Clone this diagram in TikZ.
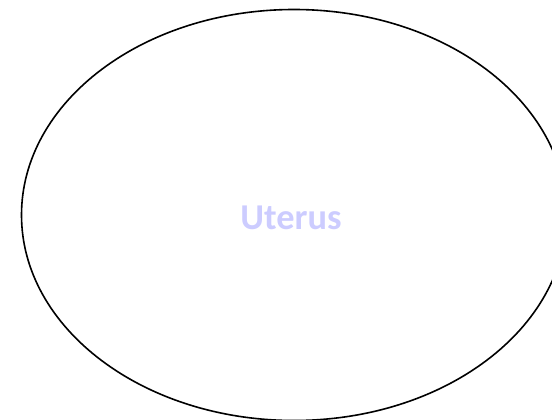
\documentclass[tikz,border=0pt]{standalone}
\usepackage{fontspec}
\setmainfont{Carlito}
\definecolor{labelblue}{RGB}{204,204,255}
\begin{document}
\begin{tikzpicture}[x=1bp,y=1bp,
  outline/.style={draw=black,line width=1.6bp},
  lbl/.style={text=labelblue,font=\bfseries\fontsize{36.5}{40}\selectfont,inner sep=0pt}]
\useasboundingbox (0,0) rectangle (552,419);
\clip (0,0) rectangle (552,419);
\draw[outline] (294,204) ellipse [x radius=272.5, y radius=205.5];
\node[lbl,anchor=base] (uterus) at (291,190) {Uterus};
\end{tikzpicture}
\end{document}
